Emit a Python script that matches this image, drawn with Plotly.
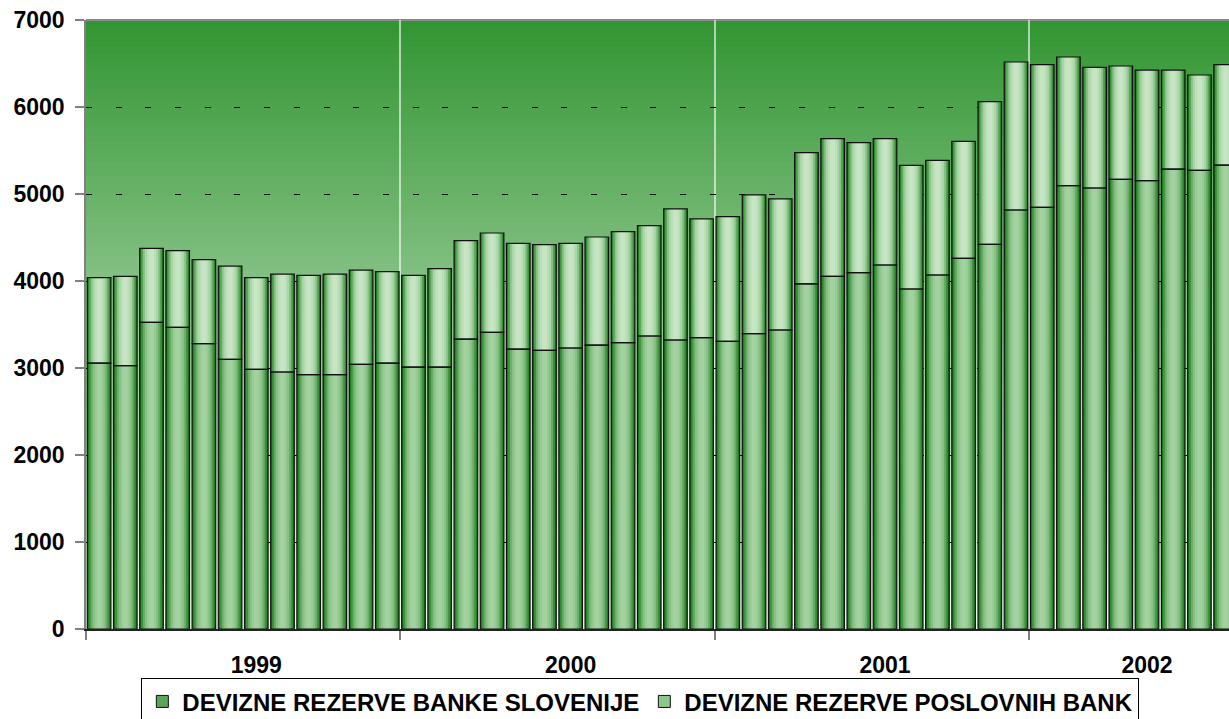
import plotly.graph_objects as go

# ---------------- data ----------------
years = ["1999", "2000", "2001", "2002"]
months_per_year = [12, 12, 12, 8]
months = ["I", "II", "III", "IV", "V", "VI", "VII", "VIII", "IX", "X", "XI", "XII"]
categories = [f"{m}.{y}" for y, n in zip(years, months_per_year) for m in months[:n]]

banke_slovenije = [3057, 3027, 3525, 3467, 3280, 3100, 2985, 2954, 2923, 2923, 3042, 3057,
                   3011, 3011, 3333, 3410, 3218, 3203, 3230, 3264, 3291, 3368, 3322, 3349,
                   3307, 3395, 3437, 3966, 4054, 4096, 4184, 3908, 4069, 4261, 4421, 4816,
                   4847, 5096, 5069, 5169, 5153, 5287, 5272, 5333]
poslovnih_bank = [981, 1027, 850, 882, 965, 1072, 1053, 1126, 1142, 1157, 1084, 1050,
                  1054, 1131, 1131, 1142, 1215, 1215, 1203, 1242, 1276, 1268, 1506, 1364,
                  1432, 1594, 1506, 1509, 1582, 1494, 1452, 1422, 1318, 1344, 1640, 1701,
                  1640, 1479, 1387, 1302, 1272, 1138, 1096, 1154]

series_names = ["DEVIZNE REZERVE BANKE SLOVENIJE", "DEVIZNE REZERVE POSLOVNIH BANK"]
y_ticks = [0, 1000, 2000, 3000, 4000, 5000, 6000, 7000]

# ---------------- styling ----------------
FONT = "Liberation Sans, Arial, sans-serif"
bottom_layers = [(0.90, "#1d771d"), (0.78, "#3f933f"), (0.64, "#68ad66"),
                 (0.50, "#86c083"), (0.34, "#98cb95"), (0.18, "#a3d2a0")]
top_layers = [(0.90, "#268126"), (0.78, "#57a457"), (0.64, "#88c386"),
              (0.50, "#a9d6a6"), (0.34, "#bcdfb9"), (0.18, "#c7e5c4")]
legend_colors = ["#5aa558", "#8cc88a"]

x = list(range(len(categories)))
zeros = [0] * len(x)

fig = go.Figure()

for layers, vals, base in [(bottom_layers, banke_slovenije, zeros),
                           (top_layers, poslovnih_bank, banke_slovenije)]:
    for i, (w, c) in enumerate(layers):
        fig.add_trace(go.Bar(
            x=x, y=vals, base=base, width=w,
            marker=dict(color=c, line=dict(width=0)),
            showlegend=False, hoverinfo="skip"))

# outlines on top
for vals, base in [(banke_slovenije, zeros), (poslovnih_bank, banke_slovenije)]:
    fig.add_trace(go.Bar(
        x=x, y=vals, base=base, width=0.9,
        marker=dict(color="rgba(0,0,0,0)", line=dict(color="#111111", width=1.2)),
        showlegend=False, hoverinfo="skip"))

# legend entries
for name, c in zip(series_names, legend_colors):
    fig.add_trace(go.Bar(x=[None], y=[None], name=name,
                         marker=dict(color=c, line=dict(color="#111111", width=1))))

# gradient background (decorative strips)
shapes = []
N = 90
top_c = (50, 150, 50)
bot_c = (242, 249, 242)
for k in range(N):
    t = k / (N - 1)
    col = tuple(round(top_c[j] + (bot_c[j] - top_c[j]) * t) for j in range(3))
    y1 = 1 - k / N
    y0 = 1 - (k + 1) / N - 0.002
    shapes.append(dict(type="rect", xref="paper", yref="paper", x0=0, x1=1,
                       y0=max(y0, 0), y1=y1, fillcolor="rgb(%d,%d,%d)" % col,
                       line=dict(width=0), layer="below"))
shapes.append(dict(type="line", xref="paper", yref="paper", x0=0, x1=1, y0=1, y1=1,
                   line=dict(color="#8a8a8a", width=2), layer="below"))

# year label positions: centre of each year's group (+0.5 as in the original)
year_pos, boundaries, start = [], [], 0
for n in months_per_year:
    boundaries.append(start - 0.5)
    year_pos.append(start + n / 2)
    start += n

fig.update_layout(
    width=1229, height=719,
    margin=dict(l=86, r=0, t=20, b=90, autoexpand=False),
    barmode="overlay",
    paper_bgcolor="white",
    plot_bgcolor="rgba(0,0,0,0)",
    shapes=shapes,
    font=dict(family=FONT, color="black"),
    hovermode=False,
    legend=dict(orientation="h", x=0.485, xanchor="center", y=-0.081, yanchor="top",
                bordercolor="black", borderwidth=1, bgcolor="white",
                font=dict(family=FONT, size=24, weight="bold", color="black"),
                itemwidth=30, tracegroupgap=0),
    xaxis=dict(range=[-0.5, 43.13], tickmode="array", tickvals=year_pos, ticktext=years,
               ticks="", showgrid=False, zeroline=False, automargin=False,
               showline=True, linecolor="#222222", linewidth=1.5,
               tickfont=dict(family=FONT, size=23, weight="bold", color="black"),
               ticklabelstandoff=15,
               minor=dict(tickmode="array", tickvals=boundaries, ticks="outside",
                          ticklen=9, tickcolor="#808080", tickwidth=1.5,
                          showgrid=True, gridcolor="rgba(255,255,255,0.6)", gridwidth=1.5)),
    yaxis=dict(range=[0, 7000], tickmode="array", tickvals=y_ticks, automargin=False,
               ticks="outside", ticklen=9, tickcolor="#808080", tickwidth=1.5,
               showline=True, linecolor="#808080", linewidth=1.5,
               showgrid=True, gridcolor="black", gridwidth=1, griddash="6px,23.7px",
               zeroline=False,
               tickfont=dict(family=FONT, size=23, weight="bold", color="black"),
               ticklabelstandoff=6),
)

fig.write_html("out.html", config={"displayModeBar": False},
               post_script="document.body.style.margin='0';document.body.style.overflow='hidden';")
